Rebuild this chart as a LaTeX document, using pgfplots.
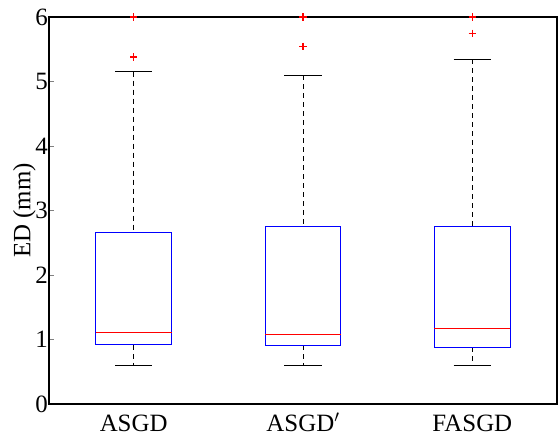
\documentclass[border=0pt]{standalone}
\usepackage{pgfplots}
\pgfplotsset{compat=1.18}
\usepgfplotslibrary{statistics}
\usetikzlibrary{calc}
\usepackage{fontspec}
\setmainfont{Liberation Serif}
\begin{document}
\fontsize{25}{29}\selectfont
\begin{tikzpicture}
\pgfplotsset{
  mybox/.style={
    red,
    boxplot/draw direction=y,
    boxplot/box extend=0.447,
    boxplot/whisker extend=0.22,
    boxplot/every box/.style={draw=blue, line width=0.9bp},
    boxplot/every median/.style={draw=red, line width=0.9bp},
    boxplot/draw/lower whisker/.code={
      \draw[black, dash pattern=on 5bp off 4bp, line width=0.8bp] (boxplot cs:\pgfkeysvalueof{/pgfplots/boxplot/lower quartile}) -- (boxplot cs:\pgfkeysvalueof{/pgfplots/boxplot/lower whisker});
      \draw[black, solid, line width=0.9bp] (boxplot whisker cs:\pgfkeysvalueof{/pgfplots/boxplot/lower whisker},0) -- (boxplot whisker cs:\pgfkeysvalueof{/pgfplots/boxplot/lower whisker},1);
    },
    boxplot/draw/upper whisker/.code={
      \draw[black, dash pattern=on 5bp off 4bp, line width=0.8bp] (boxplot cs:\pgfkeysvalueof{/pgfplots/boxplot/upper whisker}) -- (boxplot cs:\pgfkeysvalueof{/pgfplots/boxplot/upper quartile});
      \draw[black, solid, line width=0.9bp] (boxplot whisker cs:\pgfkeysvalueof{/pgfplots/boxplot/upper whisker},0) -- (boxplot whisker cs:\pgfkeysvalueof{/pgfplots/boxplot/upper whisker},1);
    },
    mark=+, mark size=3.6bp, mark options={draw=red, solid, line width=1.1bp},
  },
}
\begin{axis}[
  scale only axis,
  width=508bp, height=387bp,
  xmin=0.5, xmax=3.5, ymin=0, ymax=6,
  xtick={1,2,3},
  xticklabels={ASGD, ASGD$'$, FASGD},
  ytick={0,1,2,3,4,5,6},
  ytick pos=left,
  xtick style={draw=none},
  tick align=inside,
  major tick length=5bp,
  axis line style={line width=1.1bp},
  /pgf/number format/assume math mode=true,
  tick label style={font=\fontsize{25}{29}\selectfont},
  yticklabel style={inner sep=1bp},
  xticklabel style={anchor=base, yshift=-27bp, inner sep=0pt},
  label style={font=\fontsize{25}{29}\selectfont},
  ylabel={ED (mm)},
  ylabel style={at={(axis description cs:-0.0256,0.5)}, anchor=south, inner sep=0pt},
  clip=false,
]
\addplot[mybox, boxplot prepared={draw position=1, lower whisker=0.598, lower quartile=0.918, median=1.108, upper quartile=2.667, upper whisker=5.155}]
  table[row sep=\\, y index=0] {5.38\\ 6.0\\};
\addplot[mybox, boxplot prepared={draw position=2, lower whisker=0.604, lower quartile=0.907, median=1.083, upper quartile=2.755, upper whisker=5.10}]
  table[row sep=\\, y index=0] {5.546\\ 6.0\\};
\addplot[mybox, boxplot prepared={draw position=3, lower whisker=0.598, lower quartile=0.882, median=1.176, upper quartile=2.76, upper whisker=5.345}]
  table[row sep=\\, y index=0] {5.75\\ 6.0\\};
\end{axis}
\pgfresetboundingbox
\path ($(current axis.south west)+(-49bp,-31bp)$) rectangle ($(current axis.north east)+(2bp,17bp)$);
\end{tikzpicture}
\end{document}
